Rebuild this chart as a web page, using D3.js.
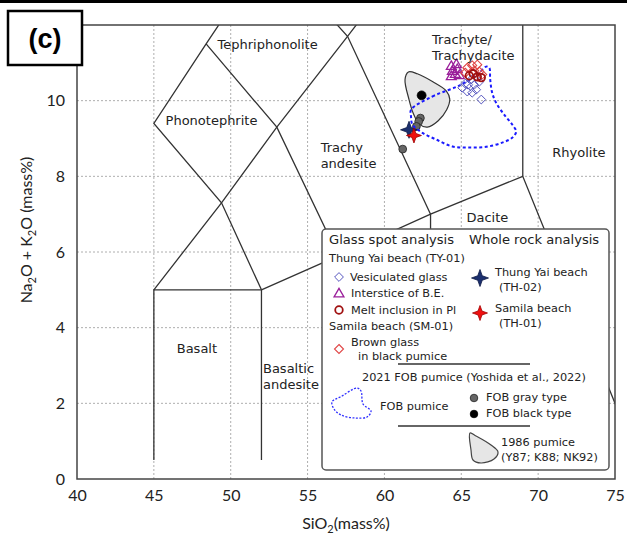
<!DOCTYPE html>
<html lang="en">
<head>
<meta charset="UTF-8">
<title>TAS diagram (c)</title>
<script src="https://cdn.jsdelivr.net/npm/d3@7"></script>
<style>
    body { margin: 0; background: #fff; }
    svg { display: block; }
    .lbl { font-family: "DejaVu Sans", sans-serif; fill: #222; }
    .ax text { font-family: Lato, "Open Sans", sans-serif; font-size: 16px; fill: #222; }
</style>
</head>
<body>
<svg width="627" height="537"></svg>
<script>
    // --- data (SiO2, Na2O+K2O) ---
    var xTicks = [40, 45, 50, 55, 60, 65, 70, 75];
    var yTicks = [0, 2, 4, 6, 8, 10];

    // TAS boundaries (Le Bas et al., 1986)
    var tasLines = [
        [[45, 0.5], [45, 5], [52, 5], [52, 0.5]],
        [[45, 5], [49.4, 7.3], [53, 9.3], [57.6, 11.7], [61, 13.5]],
        [[52, 5], [49.4, 7.3], [45, 9.4], [48.4, 11.5], [52.5, 14]],
        [[48.4, 11.5], [53, 9.3], [57, 5.9]],
        [[52, 5], [57, 5.9], [63, 7], [69, 8], [77, 0]],
        [[57, 0.5], [57, 5.9]],
        [[63, 0.5], [63, 7]],
        [[52.5, 14], [57.6, 11.7], [63, 7]],
        [[69, 8], [69, 13]]
    ];

    var fields = [
        { name: ["Tephriphonolite"], x: 52.4, y: 11.36 },
        { name: ["Phonotephrite"], x: 48.75, y: 9.36 },
        { name: ["Trachy", "andesite"], x: 55.85, y: 8.63, anchor: "start" },
        { name: ["Trachyte/", "Trachydacite"], x: 63.1, y: 11.5, anchor: "start" },
        { name: ["Rhyolite"], x: 72.65, y: 8.5 },
        { name: ["Dacite"], x: 66.7, y: 6.8 },
        { name: ["Basalt"], x: 47.8, y: 3.33 },
        { name: ["Basaltic", "andesite"], x: 52.1, y: 2.8, anchor: "start" }
    ];

    var vesiculated = [[65.06, 10.34], [65.39, 10.24], [65.71, 10.21], [65.45, 10.42], [65.84, 10.42],
        [65.97, 10.29], [65.65, 10.56], [66.17, 10.5], [66.3, 10.03], [65.26, 10.45]];
    var interstice = [[64.35, 10.9], [64.68, 10.95], [64.42, 10.77], [64.74, 10.82], [64.35, 10.63],
        [64.61, 10.69], [64.87, 10.66]];
    var meltInclusion = [[65.78, 10.71], [66.04, 10.63], [66.3, 10.61], [65.52, 10.66]];
    var brownGlass = [[65.39, 10.87], [65.71, 10.93], [66.04, 10.95], [65.26, 10.74], [66.17, 10.77],
        [66.36, 10.69], [65.84, 10.79]];
    var thungYaiWR = [[61.6, 9.23]];
    var samilaWR = [[61.92, 9.08]];
    var fobGray = [[62.34, 9.54], [62.23, 9.45], [62.08, 9.32], [61.19, 8.72]];
    var fobBlack = [[62.42, 10.14]];

    var fobField = [[61.73, 9.76], [63.12, 10.11], [64.87, 10.4], [66.04, 10.69], [66.62, 10.9], [66.82, 10.87],
        [66.88, 10.56], [67.01, 10.21], [67.27, 9.94], [67.79, 9.63], [68.31, 9.37], [68.57, 9.18],
        [68.31, 9.02], [67.66, 8.89], [66.62, 8.78], [65.52, 8.76], [64.42, 8.79], [63.38, 8.97],
        [62.47, 9.15], [61.82, 9.37], [61.73, 9.58]];
    var pumice1986 = [[61.56, 10.76], [61.34, 10.56], [61.6, 10.03], [61.88, 9.66], [62.27, 9.38],
        [62.79, 9.3], [63.5, 9.47], [64.05, 9.76], [64.25, 10.04], [64.02, 10.26], [63.15, 10.5],
        [62.14, 10.71]];

    var svg = d3.select('svg');

    var x = d3.scaleLinear().domain([40, 75]).range([77, 615]);
    var y = d3.scaleLinear().domain([0, 12]).range([479, 25]);

    // strip of the panel above
    svg.append('rect').attr('x', 0).attr('y', 0).attr('width', 627).attr('height', 3).attr('fill', '#000');

    svg.append('clipPath').attr('id', 'plotClip')
        .append('rect').attr('x', 77).attr('y', 25).attr('width', 538).attr('height', 454);

    // grid
    var grid = svg.append('g').attr('stroke', '#999').attr('stroke-width', 0.8).attr('stroke-dasharray', '2,2');
    grid.selectAll('.gx').data(xTicks.slice(1, -1)).enter().append('line')
        .attr('x1', d => x(d)).attr('x2', d => x(d)).attr('y1', y(0)).attr('y2', y(12));
    grid.selectAll('.gy').data(yTicks.slice(1)).enter().append('line')
        .attr('x1', x(40)).attr('x2', x(75)).attr('y1', d => y(d)).attr('y2', d => y(d));

    var plot = svg.append('g').attr('clip-path', 'url(#plotClip)');

    var tasLine = d3.line().x(d => x(d[0])).y(d => y(d[1]));
    plot.selectAll('.tas').data(tasLines).enter().append('path')
        .attr('d', tasLine).attr('fill', 'none').attr('stroke', '#333').attr('stroke-width', 1.3);

    // field names
    fields.forEach(function (f) {
        var t = svg.append('text').attr('class', 'lbl').attr('font-size', 13)
            .attr('text-anchor', f.anchor || 'middle')
            .attr('x', x(f.x)).attr('y', y(f.y));
        f.name.forEach(function (s, i) {
            t.append('tspan').attr('x', x(f.x)).attr('dy', i ? 16 : 0).text(s);
        });
    });

    var closedLine = d3.line().x(d => x(d[0])).y(d => y(d[1])).curve(d3.curveCatmullRomClosed.alpha(0.5));

    // 1986 pumice field
    plot.append('path').attr('d', closedLine(pumice1986))
        .attr('fill', '#e6e6e6').attr('stroke', '#333').attr('stroke-width', 1.2);

    // markers
    function diamond(s) { return 'M0,' + -s + 'L' + s + ',0L0,' + s + 'L' + -s + ',0Z'; }
    function star4(R, r) {
        var pts = d3.range(8).map(function (i) {
            var a = i * Math.PI / 4 - Math.PI / 2, rr = i % 2 ? r : R;
            return [rr * Math.cos(a), rr * Math.sin(a)];
        });
        return d3.line()(pts) + 'Z';
    }
    var tri = d3.symbol().type(d3.symbolTriangle).size(42);
    var dot = function (s) { return d3.symbol().type(d3.symbolCircle).size(s)(); };

    function drawPts(data, pathD, fill, stroke, sw) {
        plot.append('g').selectAll('path').data(data).enter().append('path')
            .attr('transform', d => 'translate(' + x(d[0]) + ',' + y(d[1]) + ')')
            .attr('d', pathD).attr('fill', fill).attr('stroke', stroke).attr('stroke-width', sw);
    }

    drawPts(fobGray, dot(48), '#666', '#222', 0.8);
    drawPts(fobBlack, dot(62), '#000', '#000', 0.8);
    drawPts(thungYaiWR, star4(8.5, 3.2), '#1b2f6e', '#0e1a45', 0.8);
    drawPts(samilaWR, star4(7.5, 2.8), '#f01010', '#a00000', 0.8);

    plot.append('path').attr('d', closedLine(fobField))
        .attr('fill', 'none').attr('stroke', '#1a1aff').attr('stroke-width', 2)
        .attr('stroke-dasharray', '3,2.5');

    drawPts(vesiculated, diamond(4.4), 'none', '#5656c0', 1);
    drawPts(interstice, tri(), 'none', '#9a1e9a', 1.3);
    drawPts(brownGlass, diamond(4.5), 'none', '#e04646', 1.1);
    drawPts(meltInclusion, dot(45), 'none', '#a01010', 1.8);

    // frame
    svg.append('rect').attr('x', 77).attr('y', 25).attr('width', 538).attr('height', 454)
        .attr('fill', 'none').attr('stroke', '#444').attr('stroke-width', 1.5);

    // axes
    var xAxis = svg.append('g').attr('class', 'ax').attr('transform', 'translate(0,479)')
        .call(d3.axisBottom(x).tickValues(xTicks).tickSize(0).tickPadding(11));
    var yAxis = svg.append('g').attr('class', 'ax').attr('transform', 'translate(77,0)')
        .call(d3.axisLeft(y).tickValues(yTicks).tickSize(0).tickPadding(12));
    xAxis.select('.domain').remove();
    yAxis.select('.domain').remove();

    var xl = svg.append('text').attr('x', 346).attr('y', 529).attr('text-anchor', 'middle')
        .attr('font-family', 'Lato, "Open Sans", sans-serif').attr('font-size', 16).attr('fill', '#222');
    xl.append('tspan').text('SiO');
    xl.append('tspan').attr('font-size', 11).attr('dy', 4).text('2');
    xl.append('tspan').attr('dy', -4).text('(mass%)');

    var yl = svg.append('text').attr('transform', 'translate(32,230) rotate(-90)').attr('text-anchor', 'middle')
        .attr('font-family', 'Lato, "Open Sans", sans-serif').attr('font-size', 16).attr('fill', '#222');
    yl.append('tspan').text('Na');
    yl.append('tspan').attr('font-size', 11).attr('dy', 4).text('2');
    yl.append('tspan').attr('dy', -4).text('O + K');
    yl.append('tspan').attr('font-size', 11).attr('dy', 4).text('2');
    yl.append('tspan').attr('dy', -4).text('O (mass%)');

    // panel tag
    svg.append('rect').attr('x', 8).attr('y', 11).attr('width', 74).attr('height', 54)
        .attr('fill', '#fff').attr('stroke', '#000').attr('stroke-width', 2.5);
    svg.append('text').attr('x', 45).attr('y', 48).attr('text-anchor', 'middle')
        .attr('font-family', '"Liberation Sans", Arial, sans-serif').attr('font-weight', 'bold')
        .attr('font-size', 27).text('(c)');

    // legend
    var lg = svg.append('g');
    lg.append('rect').attr('x', 322).attr('y', 229).attr('width', 287).attr('height', 241).attr('rx', 4)
        .attr('fill', '#fff').attr('stroke', '#555').attr('stroke-width', 1.5);

    var fs = 11.3;
    var legendText = [
        ['Glass spot analysis', 329, 244, 13.1], ['Whole rock analysis', 469, 244, 13.1],
        ['Thung Yai beach (TY-01)', 329, 262, fs],
        ['Vesiculated glass', 350, 281, fs], ['Interstice of B.E.', 351, 297, fs],
        ['Melt inclusion in Pl', 351, 314, fs], ['Samila beach (SM-01)', 329, 330, fs],
        ['Brown glass', 351, 346, fs], ['in black pumice', 358, 360, fs],
        ['Thung Yai beach', 495, 276, fs], ['(TH-02)', 499, 291, fs],
        ['Samila beach', 495, 312, fs], ['(TH-01)', 499, 327, fs],
        ['2021 FOB pumice (Yoshida et al., 2022)', 362, 381, fs],
        ['FOB pumice', 380, 410, fs], ['FOB gray type', 486, 401, fs], ['FOB black type', 486, 417, fs],
        ['1986 pumice', 501, 446, fs], ['(Y87; K88; NK92)', 501, 461, fs]
    ];
    lg.selectAll('.lt').data(legendText).enter().append('text').attr('class', 'lbl')
        .attr('x', d => d[1]).attr('y', d => d[2]).attr('font-size', d => d[3]).text(d => d[0]);

    lg.selectAll('.sep').data([364, 426]).enter().append('line')
        .attr('x1', 398).attr('x2', 530).attr('y1', d => d).attr('y2', d => d)
        .attr('stroke', '#666').attr('stroke-width', 2);

    function icon(px, py, pathD, fill, stroke, sw) {
        lg.append('path').attr('transform', 'translate(' + px + ',' + py + ')')
            .attr('d', pathD).attr('fill', fill).attr('stroke', stroke).attr('stroke-width', sw);
    }
    icon(339, 277, diamond(4.4), 'none', '#5656c0', 1);
    icon(339, 294, tri(), 'none', '#9a1e9a', 1.3);
    icon(339, 310, dot(45), 'none', '#a01010', 1.8);
    icon(339, 349, diamond(4.5), 'none', '#e04646', 1.1);
    icon(480, 278, star4(8.5, 3.2), '#1b2f6e', '#0e1a45', 0.8);
    icon(480, 313, star4(7.5, 2.8), '#f01010', '#a00000', 0.8);
    icon(474, 398, dot(45), '#666', '#222', 0.8);
    icon(474, 414, dot(45), '#000', '#000', 0.8);

    var pxClosed = d3.line().curve(d3.curveCatmullRomClosed.alpha(0.5));
    lg.append('path')
        .attr('d', pxClosed([[332, 402], [342, 396], [357, 388], [361, 391], [363, 404], [371, 411],
            [367, 417], [355, 418], [341, 415], [334, 409]]))
        .attr('fill', 'none').attr('stroke', '#3030ff').attr('stroke-width', 1.3).attr('stroke-dasharray', '2,1.5');
    lg.append('path')
        .attr('d', pxClosed([[470, 433], [476, 436], [491, 445], [498, 452], [494, 459], [481, 463],
            [473, 460], [471, 450]]))
        .attr('fill', '#e6e6e6').attr('stroke', '#444').attr('stroke-width', 1.2);
</script>
</body>
</html>
